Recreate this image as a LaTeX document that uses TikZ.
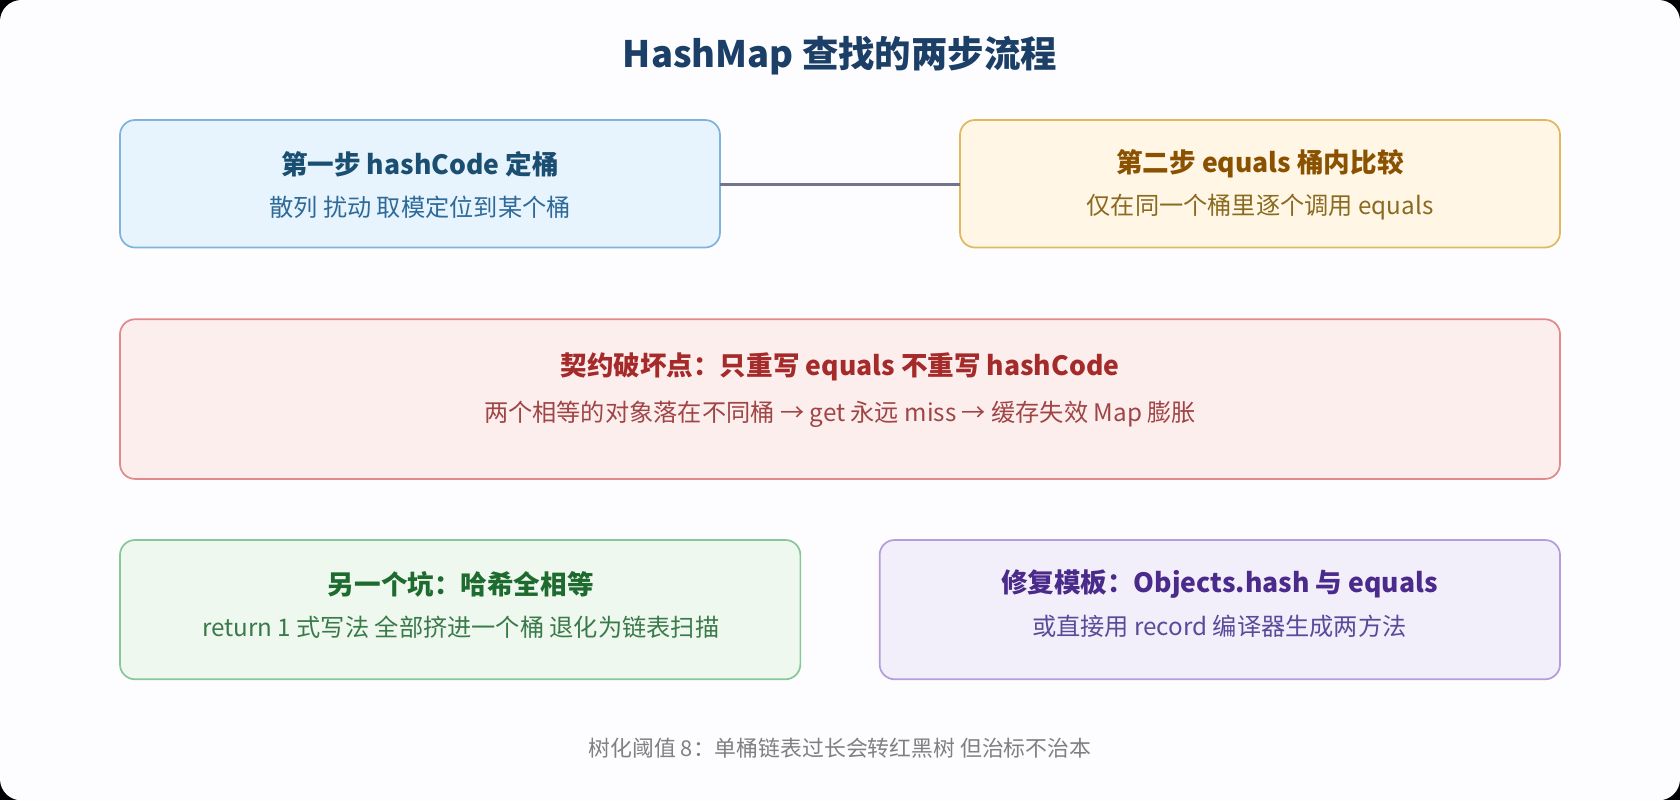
\documentclass[tikz,border=0pt]{standalone}
\usepackage{fontspec}
\setmainfont{Noto Sans CJK SC}
\begin{document}
\begin{tikzpicture}[x=0.5pt,y=-0.5pt,
  box/.style={rounded corners=7pt,line width=0.8pt,align=center},
  ttl/.style={font=\bfseries\fontsize{12.4}{15}\selectfont},
  sub/.style={font=\fontsize{11.3}{14}\selectfont}]
\fill[black] (0,0) rectangle (1568,747);
\fill[white!97!blue!20] (0,0) [rounded corners=10pt] rectangle (1568,747);
\useasboundingbox (0,0) rectangle (1568,747);
\definecolor{b1f}{HTML}{E8F4FD}\definecolor{b1d}{HTML}{7FB3DB}\definecolor{b1t}{HTML}{1B4F72}\definecolor{b1s}{HTML}{2E6A99}
\definecolor{b2f}{HTML}{FFF6E5}\definecolor{b2d}{HTML}{E0B860}\definecolor{b2t}{HTML}{8A5200}\definecolor{b2s}{HTML}{8A6A20}
\definecolor{b3f}{HTML}{FDEEEE}\definecolor{b3d}{HTML}{E08A8A}\definecolor{b3t}{HTML}{A52A2A}\definecolor{b3s}{HTML}{A04545}
\definecolor{b4f}{HTML}{EEF8EE}\definecolor{b4d}{HTML}{88C898}\definecolor{b4t}{HTML}{1E6B30}\definecolor{b4s}{HTML}{3A7A4A}
\definecolor{b5f}{HTML}{F2EEFA}\definecolor{b5d}{HTML}{B39DDB}\definecolor{b5t}{HTML}{4A2A8A}\definecolor{b5s}{HTML}{5A4A9A}
\definecolor{tt}{HTML}{1B3F66}

\node[font=\bfseries\fontsize{17}{20}\selectfont,text=tt] (title) at (784,52) {HashMap 查找的两步流程};

\draw[box,fill=b1f,draw=b1d] (112,112) rectangle (672,231);
\coordinate (b1r) at (672,172);
\node[ttl,text=b1t] (t1) at (392,153) {第一步 hashCode 定桶};
\node[sub,text=b1s] (s1) at (392,193) {散列 扰动 取模定位到某个桶};

\draw[box,fill=b2f,draw=b2d] (896,112) rectangle (1456,231);
\coordinate (b2l) at (896,172);
\node[ttl,text=b2t] (t2) at (1176,153) {第二步 equals 桶内比较};
\node[sub,text=b2s] (s2) at (1176,193) {仅在同一个桶里逐个调用 equals};

\draw[line width=1.3pt,color=gray!90!blue] (b1r) -- (b2l);

\draw[box,fill=b3f,draw=b3d] (112,298) rectangle (1456,447);
\node[ttl,text=b3t] (t3) at (784,342) {契约破坏点：只重写 equals 不重写 hashCode};
\node[sub,text=b3s] (s3) at (784,387) {两个相等的对象落在不同桶 → get 永远 miss → 缓存失效 Map 膨胀};

\draw[box,fill=b4f,draw=b4d] (112,504) rectangle (747,634);
\node[ttl,text=b4t] (t4) at (430,545) {另一个坑：哈希全相等};
\node[sub,text=b4s] (s4) at (430,585) {return 1 式写法 全部挤进一个桶 退化为链表扫描};

\draw[box,fill=b5f,draw=b5d] (821,504) rectangle (1456,634);
\node[ttl,text=b5t] (t5) at (1138,545) {修复模板：Objects.hash 与 equals};
\node[sub,text=b5s] (s5) at (1138,585) {或直接用 record 编译器生成两方法};

\node[font=\fontsize{10.2}{12}\selectfont,text=gray] (foot) at (784,698) {树化阈值 8：单桶链表过长会转红黑树 但治标不治本};
\end{tikzpicture}
\end{document}
